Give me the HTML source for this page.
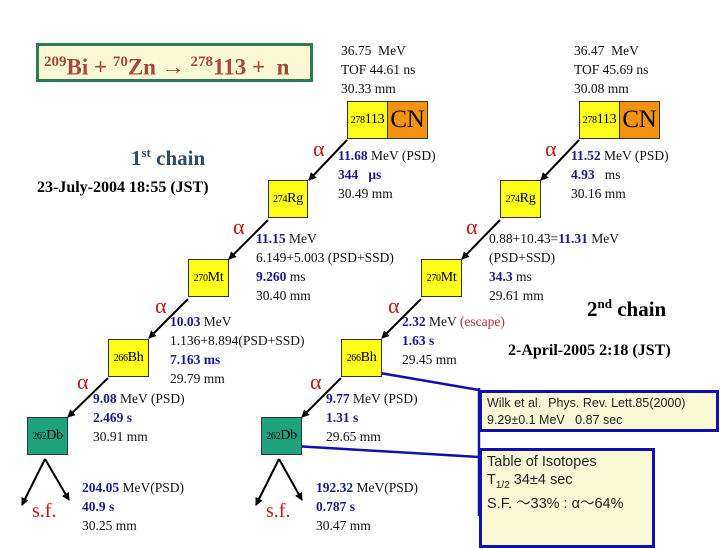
<!DOCTYPE html>
<html><head><style>
body{margin:0;width:720px;height:540px;background:#fff;position:relative;overflow:hidden;font-family:"Liberation Serif",serif;}
.t{position:absolute;font-size:13.5px;line-height:19px;color:#111;white-space:nowrap;}
.b{color:#1a1a8c;font-weight:bold;}
.box{position:absolute;width:39px;height:38px;border:1px solid #333;background:#ffff1a;font-size:14px;display:flex;align-items:center;justify-content:center;box-sizing:border-box;letter-spacing:-0.3px;}
.box sup{font-size:10px;}
.g{background:#1fa37f;}
.o{background:#f5920f;font-size:25px;}
.a{position:absolute;color:#c01818;font-size:22px;}
.sf{position:absolute;color:#c01818;font-size:20px;}
</style></head><body>
<div style="position:absolute;left:36px;top:43px;width:277px;height:39px;box-sizing:border-box;border:3px solid #2e7a55;background:#fbf8d6;color:#a24a3a;font-weight:bold;font-size:23px;line-height:33px;padding-left:5px;white-space:nowrap"><sup style="font-size:15px">209</sup>Bi + <sup style="font-size:15px">70</sup>Zn → <sup style="font-size:15px">278</sup>113 + &nbsp;n</div>

<svg width="720" height="540" style="position:absolute;left:0;top:0">
<defs><marker id="ar" markerWidth="8" markerHeight="8" refX="7" refY="4" orient="auto" markerUnits="userSpaceOnUse"><path d="M0,0L8,4L0,8z" fill="#000"/></marker></defs>
<g stroke="#000" stroke-width="2" marker-end="url(#ar)">
<line x1="347" y1="140" x2="309" y2="180"/><line x1="268" y1="220" x2="229" y2="259"/><line x1="188" y1="299" x2="149" y2="338"/><line x1="108" y1="378" x2="68" y2="417"/>
<line x1="579" y1="140" x2="541" y2="180"/><line x1="500" y1="220" x2="462" y2="259"/><line x1="421" y1="299" x2="382" y2="338"/><line x1="341" y1="378" x2="302" y2="417"/>
<line x1="45" y1="459" x2="22" y2="505"/><line x1="45" y1="459" x2="69" y2="500"/>
<line x1="279" y1="459" x2="256" y2="505"/><line x1="279" y1="459" x2="302" y2="500"/>
</g>
<g stroke="#1010b0" stroke-width="2.5" fill="none">
<line x1="380" y1="373" x2="479" y2="390"/><line x1="294" y1="446" x2="479" y2="457"/><line x1="479" y1="388" x2="479" y2="516"/>
</g>
</svg>

<div style="position:absolute;left:479px;top:390px;width:240px;height:42px;box-sizing:border-box;border:3px solid #1010b0;background:#fbf8d6;font-family:'Liberation Sans',sans-serif;font-size:12.5px;line-height:17px;padding:2px 5px;color:#222;white-space:nowrap">Wilk et al.&nbsp; Phys. Rev. Lett.85(2000)<br>9.29±0.1 MeV&nbsp;&nbsp; 0.87 sec</div>
<div style="position:absolute;left:479px;top:448px;width:176px;height:100px;box-sizing:border-box;border:3px solid #1010b0;background:#fbf8d6;font-family:'Liberation Sans',sans-serif;font-size:14.5px;line-height:18px;padding:2px 5px;color:#222;white-space:nowrap">Table of Isotopes<br>T<sub style="font-size:10px">1/2</sub> 34±4 sec<br>S.F. ～33% : α～64%</div>

<div class="box" style="left:347px;top:101px;width:41px"><sup>278</sup>113</div><div class="box o" style="left:387px;top:101px;width:41px">CN</div>
<div class="box" style="left:268px;top:180px;width:40px"><sup>274</sup>Rg</div>
<div class="box" style="left:188px;top:259px;width:41px"><sup>270</sup>Mt</div>
<div class="box" style="left:108px;top:339px;width:41px"><sup>266</sup>Bh</div>
<div class="box g" style="left:27px;top:417px;width:41px"><sup>262</sup>Db</div>
<div class="box" style="left:579px;top:101px;width:41px"><sup>278</sup>113</div><div class="box o" style="left:619px;top:101px;width:41px">CN</div>
<div class="box" style="left:500px;top:180px;width:41px"><sup>274</sup>Rg</div>
<div class="box" style="left:421px;top:259px;width:41px"><sup>270</sup>Mt</div>
<div class="box" style="left:341px;top:339px;width:41px"><sup>266</sup>Bh</div>
<div class="box g" style="left:261px;top:417px;width:41px"><sup>262</sup>Db</div>

<div class="a" style="left:313px;top:136px">α</div><div class="a" style="left:233px;top:214px">α</div><div class="a" style="left:155px;top:293px">α</div><div class="a" style="left:77px;top:369px">α</div>
<div class="a" style="left:545px;top:136px">α</div><div class="a" style="left:466px;top:214px">α</div><div class="a" style="left:388px;top:293px">α</div><div class="a" style="left:310px;top:369px">α</div>
<div class="sf" style="left:32px;top:500px">s.f.</div><div class="sf" style="left:266px;top:500px">s.f.</div>

<div class="t" style="left:341px;top:41px">36.75&nbsp; MeV<br>TOF 44.61 ns<br>30.33 mm</div>
<div class="t" style="left:574px;top:41px">36.47&nbsp; MeV<br>TOF 45.69 ns<br>30.08 mm</div>
<div style="position:absolute;left:131px;top:145px;font-size:21px;font-weight:bold;color:#2f4a6a">1<sup style="font-size:13px">st</sup> chain</div>
<div style="position:absolute;left:37px;top:179px;font-size:16px;font-weight:bold">23-July-2004 18:55 (JST)</div>
<div style="position:absolute;left:587px;top:296px;font-size:21px;font-weight:bold">2<sup style="font-size:13px">nd</sup> chain</div>
<div style="position:absolute;left:508px;top:342px;font-size:16px;font-weight:bold">2-April-2005 2:18 (JST)</div>

<div class="t" style="left:338px;top:146px"><span class="b">11.68</span> MeV (PSD)<br><span class="b">344&nbsp;&nbsp; μs</span><br>30.49 mm</div>
<div class="t" style="left:256px;top:229px"><span class="b">11.15</span> MeV<br>6.149+5.003 (PSD+SSD)<br><span class="b">9.260</span> ms<br>30.40 mm</div>
<div class="t" style="left:170px;top:312px"><span class="b">10.03</span> MeV<br>1.136+8.894(PSD+SSD)<br><span class="b">7.163 ms</span><br>29.79 mm</div>
<div class="t" style="left:93px;top:389px"><span class="b">9.08</span> MeV (PSD)<br><span class="b">2.469 s</span><br>30.91 mm</div>
<div class="t" style="left:82px;top:478px"><span class="b">204.05</span> MeV(PSD)<br><span class="b">40.9 s</span><br>30.25 mm</div>
<div class="t" style="left:571px;top:146px"><span class="b">11.52</span> MeV (PSD)<br><span class="b">4.93</span>&nbsp;&nbsp; ms<br>30.16 mm</div>
<div class="t" style="left:489px;top:229px">0.88+10.43=<span class="b">11.31</span> MeV<br>(PSD+SSD)<br><span class="b">34.3</span> ms<br>29.61 mm</div>
<div class="t" style="left:402px;top:312px"><span class="b">2.32</span> MeV <span style="color:#b03030">(escape)</span><br><span class="b">1.63 s</span><br>29.45 mm</div>
<div class="t" style="left:326px;top:389px"><span class="b">9.77</span> MeV (PSD)<br><span class="b">1.31 s</span><br>29.65 mm</div>
<div class="t" style="left:316px;top:478px"><span class="b">192.32</span> MeV(PSD)<br><span class="b">0.787 s</span><br>30.47 mm</div>
</body></html>
